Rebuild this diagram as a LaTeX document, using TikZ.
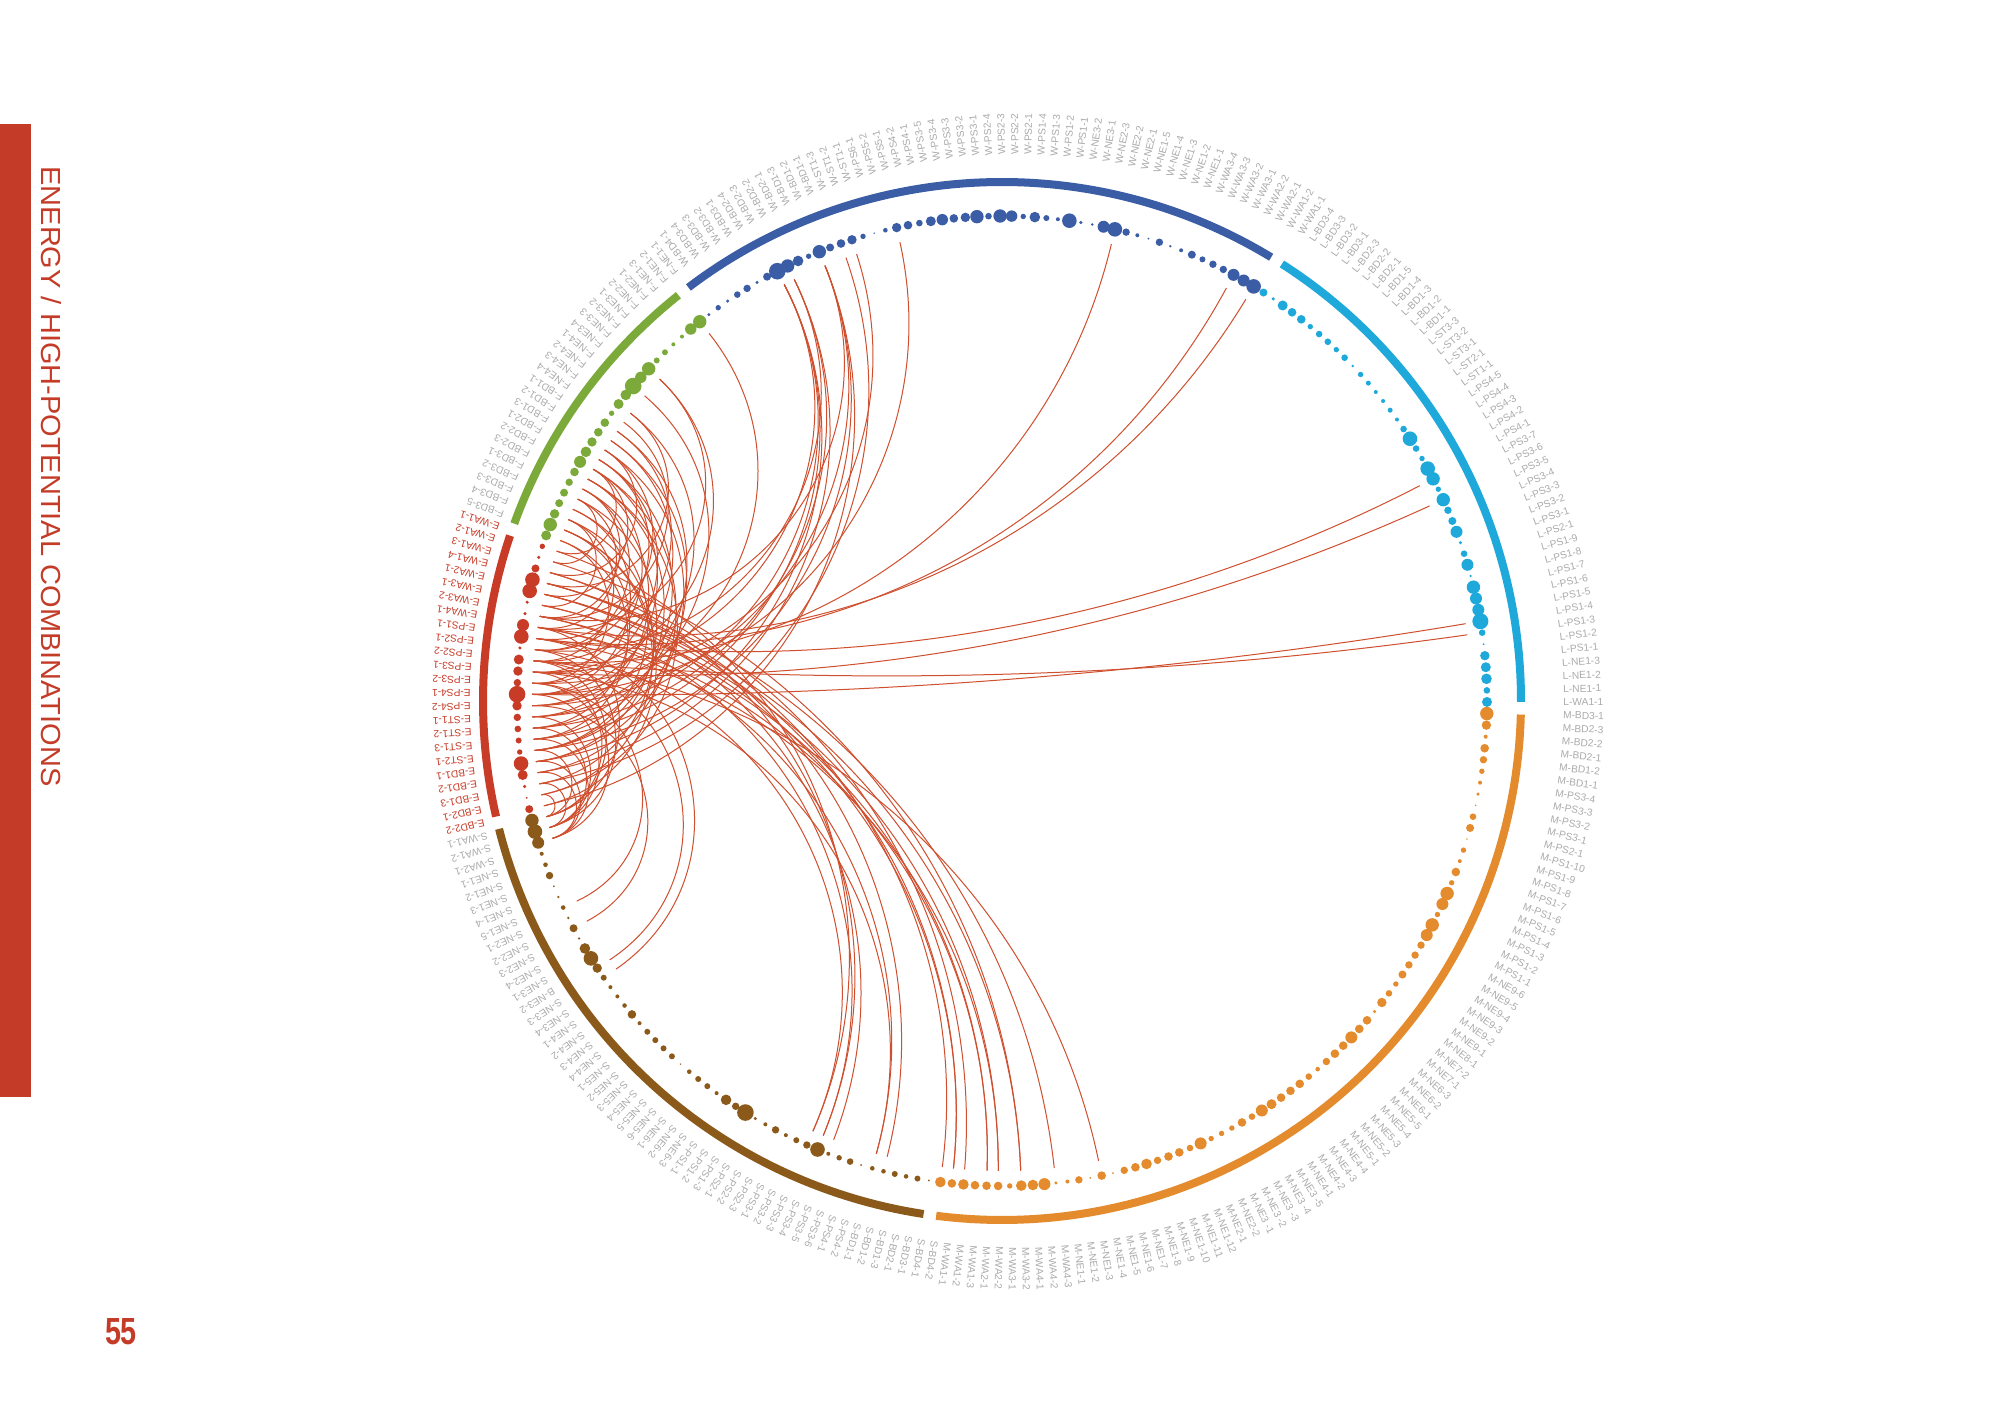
\documentclass[tikz,border=0pt]{standalone}
\usepackage{fontspec}
\setmainfont{Liberation Sans}
\usetikzlibrary{calc}
\definecolor{cW}{HTML}{3B5DA5}
\definecolor{cL}{HTML}{1EA9DA}
\definecolor{cM}{HTML}{E38B2D}
\definecolor{cS}{HTML}{8B5A1B}
\definecolor{cE}{HTML}{C73B27}
\definecolor{cF}{HTML}{7BAA3B}
\definecolor{labgray}{HTML}{ABABAB}
\definecolor{chordc}{HTML}{CF4F2E}
\definecolor{barred}{HTML}{C43C28}
\begin{document}
\begin{tikzpicture}[x=0.5pt,y=0.5pt,
  lab/.style={font=\fontsize{5.1}{6}\selectfont, text=labgray, inner sep=0pt, anchor=west},
  elab/.style={lab, text=cE},
  chord/.style={draw=chordc, line width=0.5pt},
  seg/.style={line width=4pt}]
\fill[white] (0,0) rectangle (2008,1418);
\useasboundingbox (0,0) rectangle (2008,1418);
\fill[barred] (0,321) rectangle (31,1294);
\node[rotate=-90, anchor=base west, inner sep=0pt, text=barred] (title) at (41,1252)
  {\resizebox{310pt}{10pt}{ENERGY / HIGH-POTENTIAL COMBINATIONS}};
\node[text=barred, inner sep=0pt, anchor=base] (pnum) at (121,73) {\resizebox{16pt}{13pt}{\bfseries 55}};
\begin{scope}[shift={(1002,717)}]
\pgfmathsetmacro\dl{360/263}
\foreach \k in {0,...,262}{
  \pgfmathsetmacro\ang{-0.8+(\k+0.5)*\dl}
  \coordinate (p\k) at (\ang:485);
  \coordinate (c\k) at (\ang:470);
}
% chords (circular arcs orthogonal to the ring)
\foreach \a/\b in {137/86,135/86,133/86,138/85,134/85,141/82,136/82,132/82,139/80,130/79,131/75,128/56,126/45,125/43,129/86,127/85,124/82,
126/20,129/18,131/7,128/6,
121/192,122/193,120/194,125/196,126/197,122/199,121/202,128/206,119/199,123/193,124/196,123/197,
118/180,120/181,122/182,125/186,121/187,130/150,132/152,128/156,126/157,124/181,127/180,129/186,
125/142,128/142,131/143,133/143,135/144,137/144,129/142,134/143,138/144,139/143,127/143,130/144,136/142,140/142,
131/94,125/100,129/100,133/102,121/104,124/105,128/106,134/106,131/107,136/107,126/108,137/108,130/109,135/109,122/110,132/110,138/110,129/111,140/111,133/112,127/112,125/113,137/113,131/114,136/114,128/115,139/115,134/116,141/116,130/117,135/117,118/110,
119/113,123/115,127/109,132/104,136/111,140/116,124/112,120/108}{
  \pgfmathsetmacro\ta{-0.8+(\a+0.5)*\dl}
  \pgfmathsetmacro\tb{-0.8+(\b+0.5)*\dl}
  \pgfmathsetmacro\dd{min(abs(\ta-\tb),178)}
  \pgfmathsetmacro\rc{470-1.3333*tan((180-\dd)/4)*470*tan(\dd/2)}
  \draw[chord] (c\a) .. controls (\ta:\rc) and (\tb:\rc) .. (c\b);
}
% dots
\foreach \r [count=\k from 0] in {5,3.3,5.3,5,4.7,1,3.3,8,6,6,6.7,1.3,6,3.3,1.7,6,4,3.7,6.7,2.7,6.7,7.3,2.7,3.3,7.3,3.3,2,2.5,2,2,2.5,2.7,1.3,3.3,2.7,3.3,3.3,2.7,4.3,4.3,5,1.7,4,
7.3,6,6,3.7,3.7,3,4,2,1.3,3.7,1,2,3.7,7.3,6,1.3,1.7,7.3,2,3,5.3,2.7,5.7,6.7,3.3,6.7,4.7,4.3,5.7,5,3.3,4.3,4.7,2.3,0.8,2.7,4.7,4.3,4,6.7,2.7,5.3,6.7,8.3,4,1.7,3.7,3.3,1.7,2.7,1.7,
6.7,5.7,2,2,3,3,6.7,5.7,8.3,5.3,5,2.7,4.3,4.3,4.7,5.3,6,4.3,3.7,4,4,4.7,6.7,5,
2.7,1.7,4,7.3,7.3,1.7,1.7,6,7.3,1.7,5,4.7,3.7,8.3,4.7,3.7,3.3,3,2.7,7.3,5,1.7,1,4,
6.7,7.3,6,2,2.3,3.7,1,1.3,2.3,1.3,4,1.3,5.3,7.3,4.7,3,2,2,2.3,4.3,2,3,3,3,3,0.8,2.3,3,3,2,5.3,3.7,8.3,1.7,2,3.7,2,3,3.7,7.3,2,2.7,3.3,1,2.3,2.3,3,2.3,3,1,
5.3,4.3,5.3,4.3,4.3,4.3,2.7,5.3,5.3,6,1.7,2,3.7,1,4.3,1,3.7,4.3,5.3,3.7,4.3,4.3,3.3,6,2.7,2.7,2.7,4.3,3.3,6,5,4.3,4.3,4.3,3.3,2.3,3.7,4.3,4.3,6,4.3,4.3,1.7,4.7,3.3,2.7,4,3.7,3.7,3.7,6,6.7,2.7,6,6.7,2.7,4.3,2,2.7,0.8,4,3.3,0.8,1.7,2,2.7,3.7,4.3,2,4.7,6.7}{
  \ifnum\k<43 \def\dc{cL}\else\ifnum\k<94 \def\dc{cW}\else\ifnum\k<118 \def\dc{cF}\else\ifnum\k<142 \def\dc{cE}\else\ifnum\k<192 \def\dc{cS}\else\def\dc{cM}\fi\fi\fi\fi\fi
  \fill[\dc] (p\k) circle[radius=\r];
}
% segment arcs
\draw[seg, cL] (-0.1:519) arc[start angle=-0.1, end angle=57.36, radius=519];
\draw[seg, cW] (58.76:519) arc[start angle=58.76, end angle=127.17, radius=519];
\draw[seg, cF] (128.57:519) arc[start angle=128.57, end angle=160.02, radius=519];
\draw[seg, cE] (161.42:519) arc[start angle=161.42, end angle=192.87, radius=519];
\draw[seg, cS] (194.27:519) arc[start angle=194.27, end angle=261.31, radius=519];
\draw[seg, cM] (262.71:519) arc[start angle=262.71, end angle=358.5, radius=519];
\end{scope}
% labels
\begin{scope}[shift={(1017,717)}]
\pgfmathsetmacro\dl{360/263}
\foreach \lb [count=\i from 0] in {L-WA1-1,L-NE1-1,L-NE1-2,L-NE1-3,L-PS1-1,L-PS1-2,L-PS1-3,L-PS1-4,L-PS1-5,L-PS1-6,L-PS1-7,L-PS1-8,L-PS1-9,L-PS2-1,L-PS3-1,L-PS3-2,L-PS3-3,L-PS3-4,L-PS3-5,L-PS3-6,L-PS3-7,L-PS4-1,L-PS4-2,L-PS4-3,L-PS4-4,L-PS4-5,L-ST1-1,L-ST2-1,L-ST3-1,L-ST3-2,L-ST3-3,L-BD1-1,L-BD1-2,L-BD1-3,L-BD1-4,L-BD1-5,L-BD2-1,L-BD2-2,L-BD2-3,L-BD3-1,L-BD3-2,L-BD3-3,L-BD3-4}{
  \pgfmathsetmacro\ang{-0.8+(\i+0.5)*\dl}
  \node[lab, rotate=\ang] (l\i) at (\ang:546) {\lb};
}
\foreach \lb [count=\i from 43] in {W-WA1-1,W-WA1-2,W-WA2-1,W-WA2-2,W-WA3-1,W-WA3-2,W-WA3-3,W-WA3-4,W-NE1-1,W-NE1-2,W-NE1-3,W-NE1-4,W-NE1-5,W-NE2-1,W-NE2-2,W-NE2-3,W-NE3-1,W-NE3-2,W-PS1-1,W-PS1-2,W-PS1-3,W-PS1-4,W-PS2-1,W-PS2-2,W-PS2-3,W-PS2-4,W-PS3-1,W-PS3-2,W-PS3-3,W-PS3-4,W-PS3-5,W-PS4-1,W-PS4-2,W-PS5-1,W-PS5-2,W-PS6-1,W-ST1-1,W-ST1-2,W-ST1-3,W-BD1-1,W-BD1-2,W-BD1-3,W-BD2-1,W-BD2-2,W-BD2-3,W-BD2-4,W-BD3-1,W-BD3-2,W-BD3-3,W-BD3-4,W-BD4-1}{
  \pgfmathsetmacro\ang{-0.8+(\i+0.5)*\dl}
  \node[lab, rotate=\ang] (l\i) at (\ang:546) {\lb};
}
\foreach \lb [count=\i from 94] in {F-NE1-1,F-NE1-2,F-NE1-3,F-NE2-1,F-NE2-2,F-NE3-1,F-NE3-2,F-NE3-3,F-NE3-4,F-NE4-1,F-NE4-2,F-NE4-3,F-NE4-4,F-BD1-1,F-BD1-2,F-BD1-3,F-BD2-1,F-BD2-2,F-BD2-3,F-BD3-1,F-BD3-2,F-BD3-3,F-BD3-4,F-BD3-5}{
  \pgfmathsetmacro\ang{-0.8+(\i+0.5)*\dl}
  \node[lab, rotate=\ang] (l\i) at (\ang:546) {\lb};
}
\foreach \lb [count=\i from 118] in {E-WA1-1,E-WA1-2,E-WA1-3,E-WA1-4,E-WA2-1,E-WA3-1,E-WA3-2,E-WA4-1,E-PS1-1,E-PS2-1,E-PS2-2,E-PS3-1,E-PS3-2,E-PS4-1,E-PS4-2,E-ST1-1,E-ST1-2,E-ST1-3,E-ST2-1,E-BD1-1,E-BD1-2,E-BD1-3,E-BD2-1,E-BD2-2}{
  \pgfmathsetmacro\ang{-0.8+(\i+0.5)*\dl}
  \node[elab, rotate=\ang] (l\i) at (\ang:546) {\lb};
}
\foreach \lb [count=\i from 142] in {S-WA1-1,S-WA1-2,S-WA2-1,S-NE1-1,S-NE1-2,S-NE1-3,S-NE1-4,S-NE1-5,S-NE2-1,S-NE2-2,S-NE2-3,S-NE2-4,S-NE3-1,B-NE3-2,S-NE3-3,S-NE3-4,S-NE4-1,S-NE4-2,S-NE4-3,S-NE4-4,S-NE5-1,S-NE5-2,S-NE5-3,S-NE5-4,S-NE5-5,S-NE5-6,S-NE6-1,S-NE6-2,S-NE6-3,S-PS1-1,S-PS1-2,S-PS1-3,S-PS2-1,S-PS2-2,S-PS2-3,S-PS3-1,S-PS3-2,S-PS3-3,S-PS3-4,S-PS3-5,S-PS3-6,S-PS4-1,S-PS4-2,S-BD1-1,S-BD1-2,S-BD1-3,S-BD2-1,S-BD3-1,S-BD4-1,S-BD4-2}{
  \pgfmathsetmacro\ang{-0.8+(\i+0.5)*\dl}
  \node[lab, rotate=\ang] (l\i) at (\ang:546) {\lb};
}
\foreach \lb [count=\i from 192] in {M-WA1-1,M-WA1-2,M-WA1-3,M-WA2-1,M-WA2-2,M-WA3-1,M-WA3-2,M-WA4-1,M-WA4-2,M-WA4-3,M-NE1-1,M-NE1-2,M-NE1-3,M-NE1-4,M-NE1-5,M-NE1-6,M-NE1-7,M-NE1-8,M-NE1-9,M-NE1-10,M-NE1-11,M-NE1-12,M-NE2-1,M-NE2-2,M-NE3 -1,M-NE3 -2,M-NE3 -3,M-NE3 -4,M-NE3 -5,M-NE4-1,M-NE4-2,M-NE4-3,M-NE4-4,M-NE5-1,M-NE5-2,M-NE5-3,M-NE5-4,M-NE5-5,M-NE6-1,M-NE6-2,M-NE6-3,M-NE7-1,M-NE7-2,M-NE8-1,M-NE9-1,M-NE9-2,M-NE9-3,M-NE9-4,M-NE9-5,M-NE9-6,M-PS1-1,M-PS1-2,M-PS1-3,M-PS1-4,M-PS1-5,M-PS1-6,M-PS1-7,M-PS1-8,M-PS1-9,M-PS1-10,M-PS2-1,M-PS3-1,M-PS3-2,M-PS3-3,M-PS3-4,M-BD1-1,M-BD1-2,M-BD2-1,M-BD2-2,M-BD2-3,M-BD3-1}{
  \pgfmathsetmacro\ang{-0.8+(\i+0.5)*\dl}
  \node[lab, rotate=\ang] (l\i) at (\ang:546) {\lb};
}
\end{scope}
\end{tikzpicture}
\end{document}
